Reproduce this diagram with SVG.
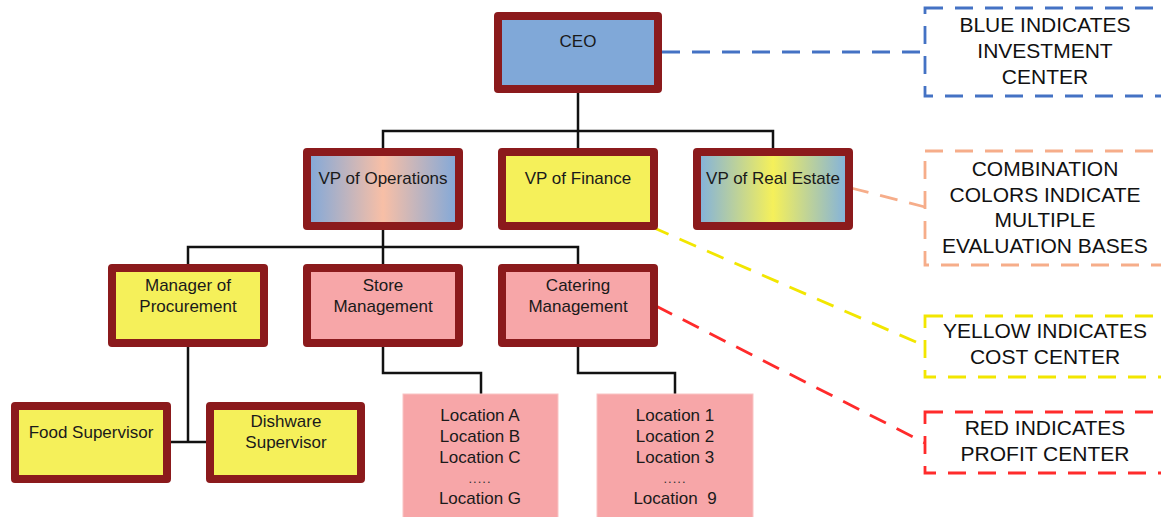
<svg xmlns="http://www.w3.org/2000/svg" width="1161" height="517" viewBox="0 0 1161 517">
<defs>
<linearGradient id="gOps" x1="0" y1="0" x2="1" y2="0">
<stop offset="0" stop-color="#7fa8da"/>
<stop offset="0.5" stop-color="#f8bfa6"/>
<stop offset="1" stop-color="#7fa8da"/>
</linearGradient>
<linearGradient id="gRE" x1="0" y1="0" x2="1" y2="0">
<stop offset="0" stop-color="#7fb0e0"/>
<stop offset="0.5" stop-color="#f5f05a"/>
<stop offset="1" stop-color="#7fb0e0"/>
</linearGradient>
<style>
.box{stroke:#8b1a1c;stroke-width:8;stroke-linejoin:round}
.blue{fill:#80a8d8}
.yel{fill:#f5f05a}
.pink{fill:#f7a6a8}
.loc{fill:#f7a6a8;stroke:#f9c4c4;stroke-width:1}
.t{font-family:"Liberation Sans",Arial,sans-serif;font-size:17px;fill:#1a1a1a;text-anchor:middle}
.lt{font-family:"Liberation Sans",Arial,sans-serif;font-size:21px;fill:#111;text-anchor:middle}
.dots{font-family:"Liberation Sans",Arial,sans-serif;font-size:13px;fill:#333;text-anchor:middle;letter-spacing:1px}
.con{fill:none;stroke:#111;stroke-width:2.5}
.dash{fill:none;stroke-width:2.8;stroke-dasharray:18 12}
</style>
</defs>
<rect width="1161" height="517" fill="#ffffff"/>

<g id="connectors">
<polyline class="con" points="578,93 578,131"/>
<polyline class="con" points="383,148 383,131 773,131 773,148"/>
<polyline class="con" points="578,131 578,148"/>
<polyline class="con" points="383,230 383,264"/>
<polyline class="con" points="188,264 188,247 578,247 578,264"/>
<polyline class="con" points="188,347 188,442"/>
<polyline class="con" points="171,442 206,442"/>
<polyline class="con" points="383,347 383,373 481,373 481,394"/>
<polyline class="con" points="578,347 578,373 675,373 675,394"/>
<line class="dash" x1="662" y1="52" x2="925" y2="52" stroke="#4472c4"/>
<line class="dash" x1="851" y1="188" x2="925" y2="207" stroke="#f6ad8a"/>
<line class="dash" x1="652" y1="227" x2="925" y2="346" stroke="#f2e600"/>
<line class="dash" x1="656" y1="306" x2="925" y2="443" stroke="#ff2b2b"/>
</g>

<g id="ceo">
<rect class="box blue" x="498" y="16" width="160" height="73"/>
<text class="t" x="578" y="47">CEO</text>
</g>

<g id="vp-operations">
<rect class="box" fill="url(#gOps)" x="307" y="152" width="152" height="74"/>
<text class="t" x="383" y="184">VP of Operations</text>
</g>
<g id="vp-finance">
<rect class="box yel" x="502" y="152" width="152" height="74"/>
<text class="t" x="578" y="184">VP of Finance</text>
</g>
<g id="vp-real-estate">
<rect class="box" fill="url(#gRE)" x="697" y="152" width="152" height="74"/>
<text class="t" x="773" y="184">VP of Real Estate</text>
</g>

<g id="manager-procurement">
<rect class="box yel" x="112" y="268" width="152" height="75"/>
<text class="t" x="188" y="291">Manager of</text>
<text class="t" x="188" y="312">Procurement</text>
</g>
<g id="store-management">
<rect class="box pink" x="307" y="268" width="152" height="75"/>
<text class="t" x="383" y="291">Store</text>
<text class="t" x="383" y="312">Management</text>
</g>
<g id="catering-management">
<rect class="box pink" x="502" y="268" width="152" height="75"/>
<text class="t" x="578" y="291">Catering</text>
<text class="t" x="578" y="312">Management</text>
</g>

<g id="food-supervisor">
<rect class="box yel" x="15" y="406" width="152" height="73"/>
<text class="t" x="91" y="438">Food Supervisor</text>
</g>
<g id="dishware-supervisor">
<rect class="box yel" x="210" y="406" width="151" height="73"/>
<text class="t" x="286" y="427">Dishware</text>
<text class="t" x="286" y="448">Supervisor</text>
</g>

<g id="store-locations">
<rect class="loc" x="403" y="394" width="155" height="130"/>
<text class="t" x="480" y="421">Location A</text>
<text class="t" x="480" y="442">Location B</text>
<text class="t" x="480" y="463">Location C</text>
<text class="dots" x="480" y="483">.....</text>
<text class="t" x="480" y="504">Location G</text>
</g>
<g id="catering-locations">
<rect class="loc" x="597" y="394" width="156" height="130"/>
<text class="t" x="675" y="421">Location 1</text>
<text class="t" x="675" y="442">Location 2</text>
<text class="t" x="675" y="463">Location 3</text>
<text class="dots" x="675" y="483">.....</text>
<text class="t" x="675" y="504" style="white-space:pre">Location  9</text>
</g>

<g id="legend-blue">
<rect class="dash" stroke="#4472c4" x="925" y="8" width="245" height="88"/>
<text class="lt" x="1045" y="32">BLUE INDICATES</text>
<text class="lt" x="1045" y="58">INVESTMENT</text>
<text class="lt" x="1045" y="84">CENTER</text>
</g>
<g id="legend-combination">
<rect class="dash" stroke="#f6ad8a" x="925" y="151" width="245" height="114"/>
<text class="lt" x="1045" y="176">COMBINATION</text>
<text class="lt" x="1045" y="202">COLORS INDICATE</text>
<text class="lt" x="1045" y="227">MULTIPLE</text>
<text class="lt" x="1045" y="253">EVALUATION BASES</text>
</g>
<g id="legend-yellow">
<rect class="dash" stroke="#f2e600" x="925" y="316" width="245" height="61"/>
<text class="lt" x="1045" y="338">YELLOW INDICATES</text>
<text class="lt" x="1045" y="364">COST CENTER</text>
</g>
<g id="legend-red">
<rect class="dash" stroke="#ff2b2b" x="925" y="412" width="245" height="61"/>
<text class="lt" x="1045" y="435">RED INDICATES</text>
<text class="lt" x="1045" y="461">PROFIT CENTER</text>
</g>
</svg>
